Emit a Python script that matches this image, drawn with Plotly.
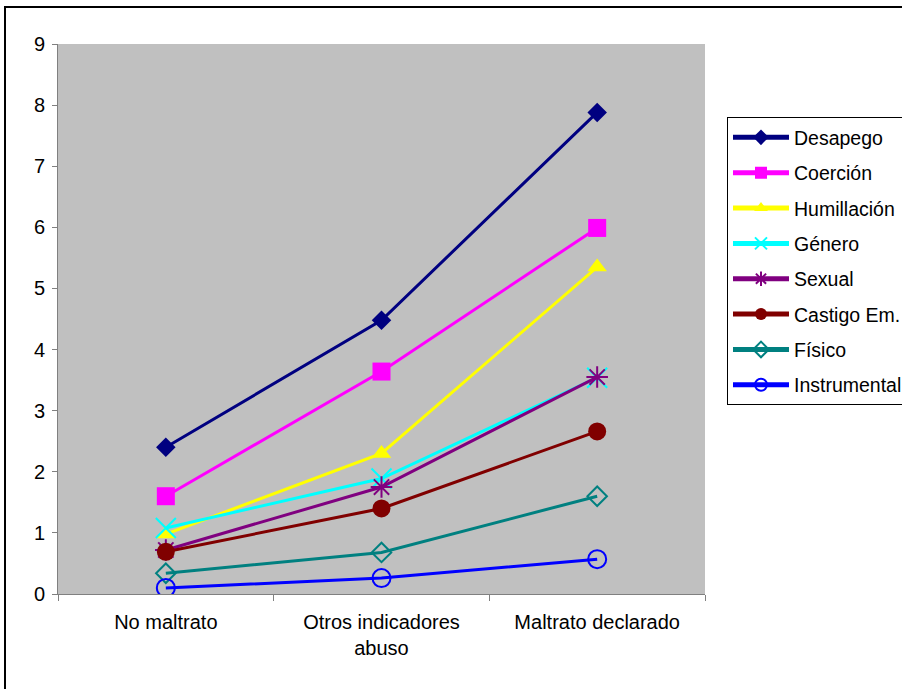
import plotly.graph_objects as go

categories = ["No maltrato", "Otros indicadores<br>abuso", "Maltrato declarado"]

desapego = [2.4, 4.48, 7.88]
coercion = [1.6, 3.64, 5.99]
humillacion = [0.98, 2.3, 5.35]
genero = [1.08, 1.89, 3.54]
sexual = [0.72, 1.75, 3.55]
castigo = [0.69, 1.4, 2.66]
fisico = [0.34, 0.68, 1.6]
instrumental = [0.1, 0.26, 0.57]

series = [
    ("Desapego", desapego, "#000080", dict(symbol="diamond", size=15)),
    ("Coerción", coercion, "#FF00FF", dict(symbol="square", size=18)),
    ("Humillación", humillacion, "#FFFF00", dict(symbol="triangle-up", size=17)),
    ("Género", genero, "#00FFFF", dict(symbol="x-thin-open", size=20, line=dict(width=2, color="#00FFFF"))),
    ("Sexual", sexual, "#800080", dict(symbol="asterisk-open", size=18, line=dict(width=2, color="#800080"))),
    ("Castigo Em.", castigo, "#800000", dict(symbol="circle", size=18)),
    ("Físico", fisico, "#008080", dict(symbol="diamond-open", size=15, line=dict(width=2, color="#008080"))),
    ("Instrumental", instrumental, "#0000FF", dict(symbol="circle-open", size=18, line=dict(width=2, color="#0000FF"))),
]

fig = go.Figure()
for name, vals, color, mk in series:
    fig.add_trace(go.Scatter(
        x=categories, y=vals, name=name, mode="lines+markers",
        legendgroup=name,
        line=dict(color=color, width=3),
        marker=dict(color=color, **mk),
    ))

font_family = "Liberation Sans, Arial, sans-serif"

fig.update_layout(
    width=902, height=689,
    margin=dict(l=58, r=197, t=44, b=95, autoexpand=False),
    paper_bgcolor="white",
    plot_bgcolor="#C0C0C0",
    font=dict(family=font_family, size=20, color="black"),
    showlegend=True,
    legend=dict(
        x=1.034, y=0.867, xanchor="left", yanchor="top",
        bgcolor="white", bordercolor="black", borderwidth=1,
        font=dict(family=font_family, size=19.5),
        tracegroupgap=7,
        itemsizing="constant",
        itemwidth=56,
    ),
    xaxis=dict(
        type="category", range=[-0.5, 2.5], tickson="boundaries",
        showgrid=False, zeroline=False,
        showline=True, linecolor="#808080", linewidth=1,
        ticks="outside", ticklen=6, tickcolor="#808080",
        tickfont=dict(size=20), ticklabelstandoff=10,
    ),
    yaxis=dict(
        range=[0, 9], dtick=1, showgrid=False, zeroline=False,
        showline=True, linecolor="#808080", linewidth=1,
        ticks="outside", ticklen=5, tickcolor="#808080",
        tickfont=dict(size=20), ticklabelstandoff=3,
    ),
    shapes=[dict(
        type="rect", xref="paper", yref="paper",
        x0=(5 - 58) / 647, x1=(910 - 58) / 647,
        y0=(594 - 692) / 550, y1=(594 - 7) / 550,
        line=dict(color="black", width=2), fillcolor="rgba(0,0,0,0)",
        layer="below",
    )],
)

fig.write_html("out.html")
